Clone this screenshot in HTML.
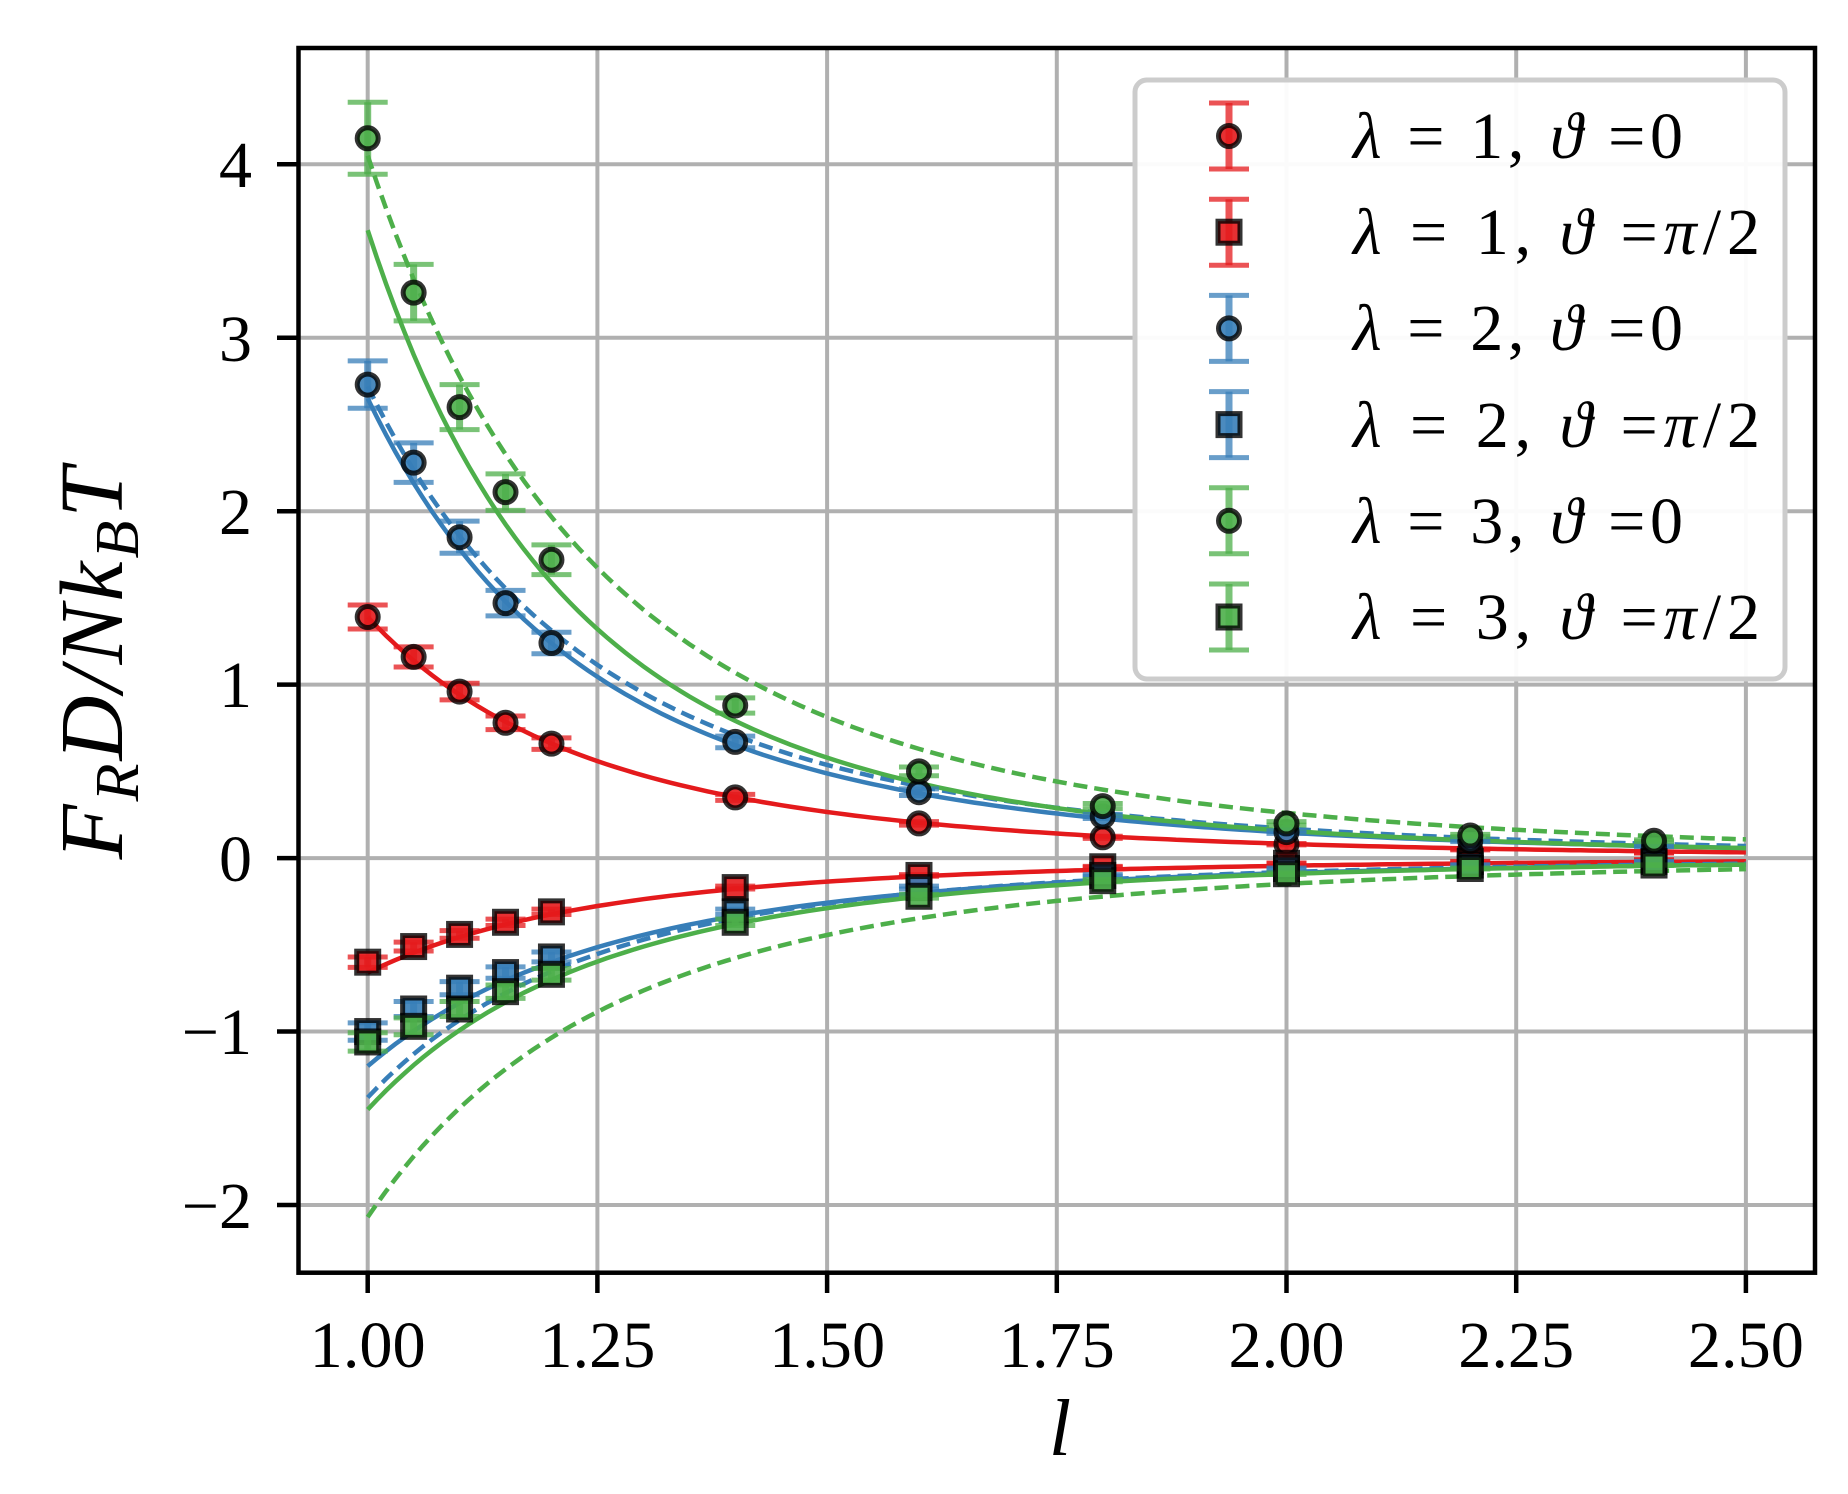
<!DOCTYPE html>
<html><head><meta charset="utf-8"><style>
html,body{margin:0;padding:0;background:#fff;}
svg{display:block;}
text{font-family:"Liberation Serif",serif;fill:#000;}
</style></head><body>
<svg id="s" width="1848" height="1494" viewBox="0 0 1848 1494" xmlns="http://www.w3.org/2000/svg">
<rect width="1848" height="1494" fill="#fff"/>
<g id="grid"></g>
<g id="curves"></g>
<g id="pts"></g>
<rect x="298.5" y="48" width="1516.5" height="1224.7" fill="none" stroke="#000" stroke-width="4.5"/>
<g id="ticks"></g>
<g font-size="66" text-anchor="middle" id="xl">
<text x="367.7" y="1367" textLength="116" lengthAdjust="spacingAndGlyphs">1.00</text><text x="597.4" y="1367" textLength="116" lengthAdjust="spacingAndGlyphs">1.25</text><text x="827.1" y="1367" textLength="116" lengthAdjust="spacingAndGlyphs">1.50</text>
<text x="1056.8" y="1367" textLength="116" lengthAdjust="spacingAndGlyphs">1.75</text><text x="1286.5" y="1367" textLength="116" lengthAdjust="spacingAndGlyphs">2.00</text><text x="1516.2" y="1367" textLength="116" lengthAdjust="spacingAndGlyphs">2.25</text>
<text x="1745.9" y="1367" textLength="116" lengthAdjust="spacingAndGlyphs">2.50</text></g>
<g font-size="66" text-anchor="end">
<text x="252" y="187">4</text><text x="252" y="361">3</text><text x="252" y="534">2</text>
<text x="252" y="707">1</text><text x="252" y="881">0</text><text x="252" y="1054">−1</text>
<text x="252" y="1228">−2</text></g>
<text x="1060" y="1455" font-size="80" font-style="italic" text-anchor="middle">l</text>
<text transform="translate(122,662) rotate(-90)" font-size="90" font-style="italic" text-anchor="middle" letter-spacing="3">F<tspan font-size="62" dy="16">R</tspan><tspan dy="-16">D/Nk</tspan><tspan font-size="62" dy="16">B</tspan><tspan dy="-16">T</tspan></text>
<rect x="1135" y="80" width="650" height="599" rx="12" fill="#fff" fill-opacity="0.95" stroke="#cccccc" stroke-width="5"/>
<g id="leg"></g>
<g font-size="66">
<text x="1353" y="158" textLength="330" lengthAdjust="spacing"><tspan font-style="italic">λ</tspan> = 1, <tspan font-style="italic">ϑ</tspan> =0</text>
<text x="1353" y="254" textLength="407" lengthAdjust="spacing"><tspan font-style="italic">λ</tspan> = 1, <tspan font-style="italic">ϑ</tspan> =<tspan font-style="italic">π</tspan>/2</text>
<text x="1353" y="350" textLength="330" lengthAdjust="spacing"><tspan font-style="italic">λ</tspan> = 2, <tspan font-style="italic">ϑ</tspan> =0</text>
<text x="1353" y="447" textLength="407" lengthAdjust="spacing"><tspan font-style="italic">λ</tspan> = 2, <tspan font-style="italic">ϑ</tspan> =<tspan font-style="italic">π</tspan>/2</text>
<text x="1353" y="543" textLength="330" lengthAdjust="spacing"><tspan font-style="italic">λ</tspan> = 3, <tspan font-style="italic">ϑ</tspan> =0</text>
<text x="1353" y="639" textLength="407" lengthAdjust="spacing"><tspan font-style="italic">λ</tspan> = 3, <tspan font-style="italic">ϑ</tspan> =<tspan font-style="italic">π</tspan>/2</text>
</g>
</svg>
<script>
const NS="http://www.w3.org/2000/svg";
const X=l=>367.7+(l-1)*918.8, Y=v=>858.1-v*173.45;
function el(p,t,a){const e=document.createElementNS(NS,t);for(const k in a)e.setAttribute(k,a[k]);document.getElementById(p).appendChild(e);return e;}
for(let i=0;i<=6;i++){const x=X(1+i*0.25);el('grid','line',{x1:x,x2:x,y1:48,y2:1272,stroke:'#b0b0b0','stroke-width':4});
 el('ticks','line',{x1:x,x2:x,y1:1272,y2:1293,stroke:'#000','stroke-width':4.5});}
for(let v=-2;v<=4;v++){const y=Y(v);el('grid','line',{x1:298,x2:1815,y1:y,y2:y,stroke:'#b0b0b0','stroke-width':4});
 el('ticks','line',{x1:277,x2:298,y1:y,y2:y,stroke:'#000','stroke-width':4.5});}
const R='#e41a1c',B='#377eb8',G='#4daf4a';
function curve(a,n,c,dash){let d='';for(let l=1;l<=2.5001;l+=0.01){d+=(d?'L':'M')+X(l).toFixed(1)+','+Y(a*Math.pow(l,-n)).toFixed(1);}
 const o={d:d,fill:'none',stroke:c,'stroke-width':4.5};if(dash)o['stroke-dasharray']='14,7';el('curves','path',o);}
curve(1.39,4.08,R);curve(-0.66,3.9,R);
curve(2.65,4.17,B);curve(2.72,4.0,B,1);curve(-1.2,3.8,B);curve(-1.38,4.1,B,1);
curve(3.62,4.52,G);curve(4.05,3.96,G,1);curve(-1.45,3.98,G);curve(-2.07,3.8,G,1);
const L=[1,1.05,1.1,1.15,1.2,1.4,1.6,1.8,2.0,2.2,2.4];
const data=[
[R,0,[1.39,1.16,0.96,0.78,0.66,0.35,0.20,0.12,0.08,0.05,0.03]],
[R,1,[-0.60,-0.51,-0.44,-0.37,-0.31,-0.17,-0.10,-0.05,-0.03,-0.02,-0.01]],
[B,0,[2.73,2.28,1.85,1.47,1.24,0.67,0.38,0.24,0.15,0.10,0.07]],
[B,1,[-1.0,-0.87,-0.75,-0.66,-0.57,-0.31,-0.17,-0.10,-0.06,-0.04,-0.02]],
[G,0,[4.15,3.26,2.60,2.11,1.72,0.88,0.50,0.30,0.20,0.13,0.10]],
[G,1,[-1.06,-0.97,-0.87,-0.77,-0.67,-0.37,-0.22,-0.13,-0.09,-0.06,-0.04]]];
function marker(p,x,y,c,sq,e1,e2){
 el(p,'line',{x1:x,x2:x,y1:e1,y2:e2,stroke:c,'stroke-width':7,'stroke-opacity':0.75});
 el(p,'line',{x1:x-20,x2:x+20,y1:e1,y2:e1,stroke:c,'stroke-width':5,'stroke-opacity':0.75});
 el(p,'line',{x1:x-20,x2:x+20,y1:e2,y2:e2,stroke:c,'stroke-width':5,'stroke-opacity':0.75});
 if(sq)el(p,'rect',{x:x-11,y:y-11,width:22,height:22,fill:c,stroke:'#000','stroke-width':5,'fill-opacity':0.9,'stroke-opacity':0.8});
 else el(p,'circle',{cx:x,cy:y,r:10.5,fill:c,stroke:'#000','stroke-width':5,'fill-opacity':0.9,'stroke-opacity':0.8});}
data.forEach(([c,sq,vs])=>vs.forEach((v,i)=>{const e=Math.abs(v)*0.05;marker('pts',X(L[i]),Y(v),c,sq,Y(v+e),Y(v-e));}));
data.forEach(([c,sq],i)=>{const y=136+i*96.2;marker('leg',1229,y,c,sq,y-33,y+33);});
</script>
</body></html>
